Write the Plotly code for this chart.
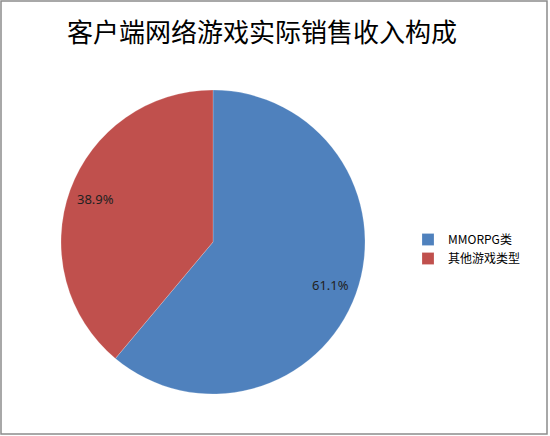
import math
import plotly.graph_objects as go

labels = ["MMORPG类", "其他游戏类型"]
values = [61.1, 38.9]
colors = ["#4F81BD", "#C0504D"]

W, H = 550, 436
cx, cy, r = 213, 242, 152  # pie centre and radius in pixels

fig = go.Figure()
fig.add_trace(go.Pie(
    labels=labels,
    values=values,
    sort=False,
    direction="clockwise",
    rotation=0,
    marker=dict(colors=colors, line=dict(color="rgba(255,255,255,0.4)", width=0.5)),
    textinfo="none",
    domain=dict(x=[(cx - r) / W, (cx + r) / W], y=[1 - (cy + r) / H, 1 - (cy - r) / H]),
    hoverinfo="label+percent",
))

# percentage labels near the outer end of each slice, like Excel
total = sum(values)
annots = []
start = 0.0
for v in values:
    mid = (start + v / 2) / total * 2 * math.pi
    start += v
    px = cx + 0.82 * r * math.sin(mid)
    py = cy - 0.82 * r * math.cos(mid)
    annots.append(dict(
        x=px / W, y=1 - py / H, xref="paper", yref="paper",
        xanchor="center", yanchor="middle",
        text=f"{v / total:.1%}", showarrow=False,
        font=dict(family="Noto Sans, Liberation Sans, sans-serif", size=13, color="#222222"),
    ))

fig.update_layout(
    width=W, height=H,
    margin=dict(l=0, r=0, t=0, b=0),
    paper_bgcolor="white",
    title=dict(
        text="客户端网络游戏实际销售收入构成",
        x=262 / W, xanchor="center",
        y=1 - 33 / H, yanchor="middle",
        font=dict(family="Noto Sans CJK SC", size=26, color="#000000"),
    ),
    legend=dict(
        x=408 / W, xanchor="left",
        y=1 - 249 / H, yanchor="middle",
        font=dict(family="Noto Sans CJK SC", size=12, color="#000000"),
        itemwidth=30,
        tracegroupgap=0,
    ),
    annotations=annots,
    shapes=[dict(type="rect", xref="paper", yref="paper",
                 x0=1 / W, x1=547 / W, y0=1 - 434 / H, y1=1 - 1 / H,
                 line=dict(color="#8c8c8c", width=1.5))],
)

fig.write_html("out.html", config={"displayModeBar": False},
               post_script="document.body.style.margin='0';")
